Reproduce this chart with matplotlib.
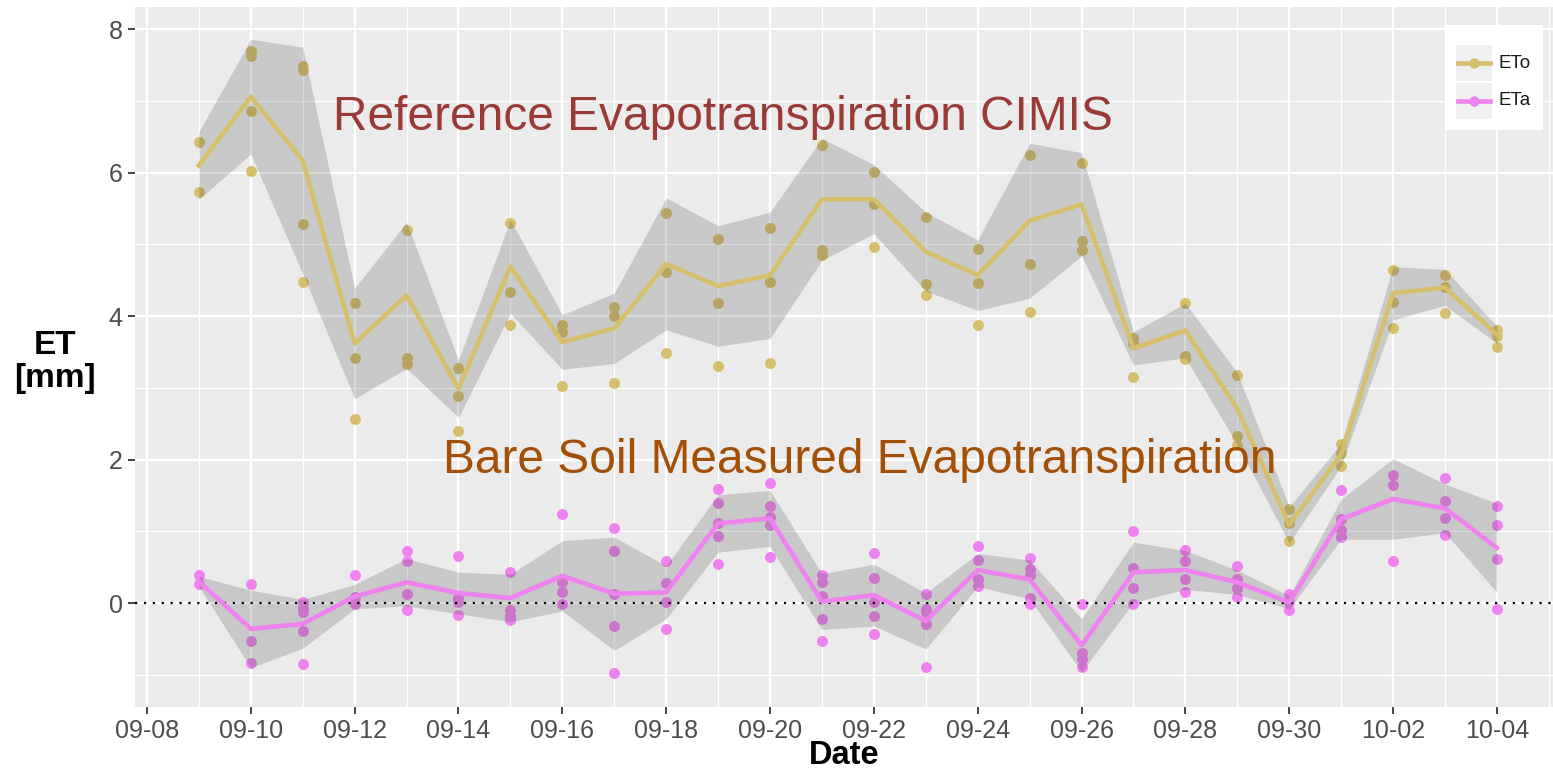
import numpy as np
import matplotlib
matplotlib.use("Agg")
import matplotlib.pyplot as plt
import matplotlib.dates as mdates
from matplotlib.patches import Rectangle
from matplotlib.lines import Line2D

plt.rcParams['font.family'] = ['Liberation Sans', 'DejaVu Sans']

# ---- data -------------------------------------------------------------
dates = np.arange(np.datetime64('2016-09-09'), np.datetime64('2016-10-05'))

eto_mean = [6.10, 7.06, 6.17, 3.62, 4.29, 2.99, 4.69, 3.64, 3.83, 4.73,
            4.42, 4.57, 5.63, 5.63, 4.90, 4.57, 5.33, 5.56, 3.55, 3.80,
            2.71, 1.09, 2.07, 4.32, 4.40, 3.74]
eto_sd = [0.47, 0.80, 1.58, 0.77, 1.02, 0.40, 0.65, 0.38, 0.49, 0.92,
          0.84, 0.88, 0.85, 0.48, 0.55, 0.49, 1.08, 0.72, 0.23, 0.38,
          0.50, 0.25, 0.16, 0.37, 0.25, 0.12]
eto_points = [
    [6.43, 5.73], [7.70, 7.62, 6.86, 6.02], [7.49, 7.43, 5.28, 4.48],
    [4.18, 3.42, 2.56], [5.20, 3.42, 3.33], [3.28, 2.89, 2.40],
    [5.30, 4.34, 3.87], [3.87, 3.78, 3.02], [4.13, 4.00, 3.07],
    [5.44, 4.62, 3.48], [5.07, 4.19, 3.31], [5.23, 4.47, 3.35],
    [6.39, 4.92, 4.85], [6.01, 5.57, 4.96], [5.38, 4.45, 4.30],
    [4.94, 4.46, 3.87], [6.24, 4.73, 4.06], [6.14, 5.05, 4.92],
    [3.70, 3.62, 3.15], [4.19, 3.44, 3.40], [3.18, 2.33, 2.20],
    [1.31, 1.12, 0.86], [2.22, 2.09, 1.91], [4.65, 4.20, 3.83],
    [4.57, 4.40, 4.05], [3.80, 3.72, 3.57],
]

eta_mean = [0.30, -0.36, -0.29, 0.09, 0.29, 0.14, 0.07, 0.38, 0.13, 0.15,
            1.11, 1.18, 0.02, 0.11, -0.25, 0.46, 0.33, -0.59, 0.43, 0.46,
            0.29, 0.01, 1.17, 1.45, 1.32, 0.77]
eta_sd = [0.07, 0.54, 0.34, 0.17, 0.33, 0.29, 0.33, 0.49, 0.79, 0.37,
          0.40, 0.39, 0.39, 0.43, 0.39, 0.23, 0.27, 0.37, 0.42, 0.27,
          0.17, 0.09, 0.28, 0.56, 0.34, 0.62]
eta_points = [
    [0.39, 0.27], [0.27, -0.53, -0.84], [0.01, -0.07, -0.13, -0.39, -0.85],
    [0.39, 0.09, -0.02], [0.73, 0.58, 0.13, -0.10], [0.66, 0.07, 0.01, -0.16],
    [0.43, -0.09, -0.18, -0.23], [1.24, 0.29, 0.15, -0.01],
    [1.05, 0.73, 0.13, -0.32, -0.98], [0.58, 0.28, 0.02, -0.36],
    [1.59, 1.40, 1.11, 0.94, 0.54], [1.68, 1.36, 1.20, 1.09, 0.64],
    [0.39, 0.29, 0.10, -0.22, -0.53], [0.70, 0.35, 0.01, -0.18, -0.43],
    [0.13, -0.08, -0.13, -0.29, -0.89], [0.79, 0.60, 0.33, 0.24],
    [0.63, 0.47, 0.39, 0.07, -0.02], [-0.01, -0.70, -0.78, -0.89],
    [1.01, 0.49, 0.21, -0.01], [0.74, 0.59, 0.34, 0.15],
    [0.51, 0.33, 0.21, 0.09], [0.12, 0.02, -0.10],
    [1.58, 1.17, 1.02, 0.92], [1.79, 1.64, 0.59],
    [1.74, 1.42, 1.19, 0.95], [1.35, 1.09, 0.61, -0.08],
]

series_names = ['ETo', 'ETa']
y_major = [0, 2, 4, 6, 8]
y_minor = [-1, 1, 3, 5, 7]

# ---- styling ----------------------------------------------------------
ETO_COLOR = '#D6BF6C'
ETA_COLOR = '#EE82EE'
RIBBON_COLOR = '#3C3C3C'
W, H = 1553, 772

fig = plt.figure(figsize=(W / 100, H / 100), dpi=100)
ax = fig.add_axes([135 / W, 1 - 706.7 / H, 1 - 135 / W, (706.7 - 7) / H])
ax.set_facecolor('#EBEBEB')
for s in ax.spines.values():
    s.set_visible(False)


def flatten(points):
    xs, ys = [], []
    for d, vals in zip(dates, points):
        xs.extend([d] * len(vals))
        ys.extend(vals)
    return np.array(xs), np.array(ys)


# points first, translucent mean ± sd ribbon over them, mean lines on top
for pts, mean, sd, col in [(eto_points, eto_mean, eto_sd, ETO_COLOR),
                           (eta_points, eta_mean, eta_sd, ETA_COLOR)]:
    px, py = flatten(pts)
    ax.scatter(px, py, s=62, color=col, linewidths=0, zorder=2)
    m = np.array(mean)
    s_ = np.array(sd)
    ax.fill_between(dates, m - s_, m + s_, color=RIBBON_COLOR, alpha=0.2,
                    linewidth=0, zorder=3)

ax.axhline(0, color='black', lw=1.6, ls=(0, (1, 3)), zorder=4)
ax.plot(dates, eto_mean, color=ETO_COLOR, lw=3.3, zorder=5,
        solid_joinstyle='round')
ax.plot(dates, eta_mean, color=ETA_COLOR, lw=3.3, zorder=5,
        solid_joinstyle='round')

# axes limits and ticks
x0 = mdates.date2num(np.datetime64('2016-09-08'))
x1 = mdates.date2num(np.datetime64('2016-10-04'))
ax.set_xlim(x0 - 0.23, x1 + 1.08)
ax.set_ylim(-1.445, 8.31)

major_dates = np.arange(np.datetime64('2016-09-08'), np.datetime64('2016-10-05'), 2)
minor_dates = np.arange(np.datetime64('2016-09-09'), np.datetime64('2016-10-06'), 2)
ax.set_xticks(mdates.date2num(major_dates))
ax.set_xticks(mdates.date2num(minor_dates), minor=True)
ax.xaxis.set_major_formatter(mdates.DateFormatter('%m-%d'))
ax.set_yticks(y_major)
ax.set_yticks(y_minor, minor=True)

ax.grid(which='major', color='white', lw=1.7)
ax.grid(which='minor', color='white', lw=0.9)
ax.set_axisbelow(True)

ax.tick_params(which='major', length=5, width=1.3, color='#333333',
               labelsize=18, labelcolor='#4D4D4D', pad=4)
ax.tick_params(which='minor', length=0)

# axis titles
fig.text(55 / W, 1 - 362 / H, 'ET\n[mm]', ha='center', va='center',
         fontsize=24, fontweight='bold', color='black', linespacing=1.05)
fig.text((135 + W) / 2 / W, 1 - 764 / H, 'Date', ha='center', va='baseline',
         fontsize=23.5, fontweight='bold', color='black')

# annotations
fig.text(333 / W, 1 - 130 / H, 'Reference Evapotranspiration CIMIS',
         ha='left', va='baseline', fontsize=34.5, color='#9A3A36')
fig.text(443 / W, 1 - 473 / H, 'Bare Soil Measured Evapotranspiration',
         ha='left', va='baseline', fontsize=34.5, color='#A24F08')

# legend box
lx0, ly0, lw_, lh_ = 1445, 25, 98, 105
lg = fig.add_axes([lx0 / W, 1 - (ly0 + lh_) / H, lw_ / W, lh_ / H])
lg.set_xlim(0, lw_)
lg.set_ylim(lh_, 0)
lg.set_facecolor('white')
lg.set_xticks([])
lg.set_yticks([])
for s in lg.spines.values():
    s.set_visible(False)
for i, (name, col) in enumerate(zip(series_names, [ETO_COLOR, ETA_COLOR])):
    top = 20.5 + i * 37.5
    lg.add_patch(Rectangle((11, top), 36, 35.5, color='#F0F0F0', lw=0))
    yc = top + 17.7
    lg.add_line(Line2D([13, 45], [yc, yc], color=col, lw=3.3))
    lg.add_line(Line2D([29], [yc], marker='o', ms=7.5, color=col, mec='none'))
    lg.text(53, yc, name, ha='left', va='center', fontsize=13.5,
            color='#1A1A1A')

fig.savefig('out.png', dpi=100)
